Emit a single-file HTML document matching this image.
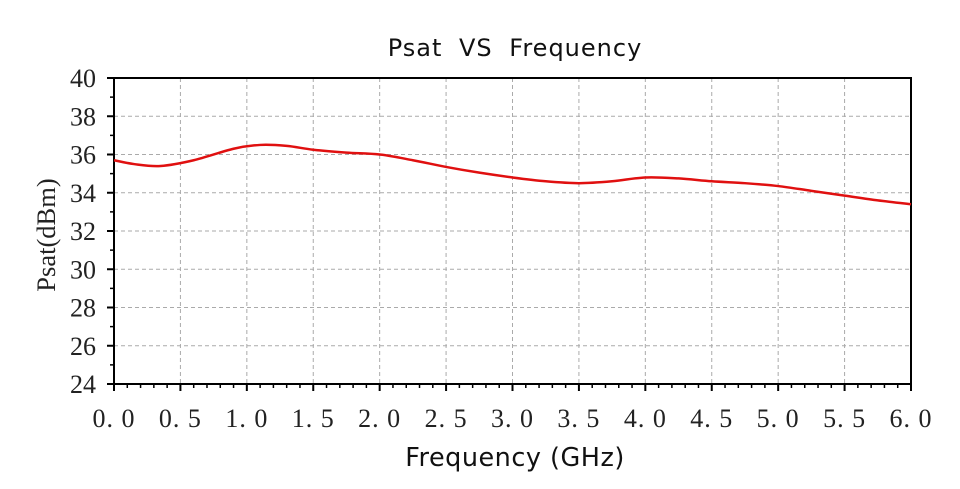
<!DOCTYPE html>
<html><head><meta charset="utf-8"><style>
html,body{margin:0;padding:0;background:#fff;}
svg{display:block;}
.tk{font-family:"Liberation Serif","Noto Serif CJK SC",serif;font-size:26px;fill:#222;}
.lb{font-family:"DejaVu Sans","Liberation Sans",sans-serif;font-size:24px;fill:#111;}
</style></head><body>
<svg id="chart" width="960" height="489" viewBox="0 0 960 489">
<text x="515" y="56" text-anchor="middle" class="lb" style="font-size:24px;word-spacing:8px;letter-spacing:1px">Psat VS Frequency</text>
<text x="515" y="466" text-anchor="middle" class="lb" style="font-size:25.5px;letter-spacing:0.5px">Frequency (GHz)</text>
<text transform="translate(55,235) rotate(-90)" text-anchor="middle" class="tk" style="font-size:26.5px">Psat(dBm)</text>
<g id="grid"></g><g id="axes"></g><g id="series"></g>
</svg>
<script>
const freqs=[0,0.15,0.35,0.6,0.9,1.1,1.3,1.5,1.75,2.0,2.25,2.5,2.75,3.0,3.25,3.5,3.75,4.0,4.25,4.5,4.75,5.0,5.25,5.5,5.75,6.0];
const psat=[35.7,35.5,35.4,35.7,36.3,36.5,36.45,36.25,36.1,36.0,35.7,35.35,35.05,34.8,34.6,34.5,34.6,34.8,34.75,34.6,34.5,34.35,34.1,33.85,33.6,33.4];
const xTicks=[0,0.5,1,1.5,2,2.5,3,3.5,4,4.5,5,5.5,6];
const xTickLabels=["0.0","0.5","1.0","1.5","2.0","2.5","3.0","3.5","4.0","4.5","5.0","5.5","6.0"];
const yTicks=[24,26,28,30,32,34,36,38,40];
const L=114,R=911,T=78,B=384;
const sx=v=>L+(v-0)/6*(R-L);
const sy=v=>B-(v-24)/16*(B-T);
const NS="http://www.w3.org/2000/svg";
function mk(p,t,a){const e=document.createElementNS(NS,t);for(const k in a)e.setAttribute(k,a[k]);p.appendChild(e);return e;}
const g=document.getElementById('grid'),ax=document.getElementById('axes'),se=document.getElementById('series');
xTicks.forEach((v,i)=>{
 if(i>0&&i<xTicks.length-1){const l=mk(g,'line',{x1:sx(v),x2:sx(v),y1:T,y2:B,stroke:'#aaa','stroke-width':1,'stroke-dasharray':'4,3'});
 
 }
 const t=mk(ax,'line',{x1:sx(v),x2:sx(v),y1:B,y2:B+7,stroke:'#000','stroke-width':2});
 
 
 const tx=mk(ax,'text',{x:sx(v),y:B+43,'text-anchor':'middle',class:'tk','letter-spacing':'1'});
 tx.textContent=xTickLabels[i].replace('.','. ');
 
 
});
for(let k=1;k<60;k++){if(k%5===0)continue;const v=k/10;
 const t=mk(ax,'line',{x1:sx(v),x2:sx(v),y1:B,y2:B+4,stroke:'#000','stroke-width':1.5});
 
 }
yTicks.forEach(v=>{
 if(v>24&&v<40){const l=mk(g,'line',{x1:L,x2:R,y1:sy(v),y2:sy(v),stroke:'#aaa','stroke-width':1,'stroke-dasharray':'4,3'});
 
 }
 const t=mk(ax,'line',{x1:L-7,x2:L,y1:sy(v),y2:sy(v),stroke:'#000','stroke-width':2});
 
 
 const tx=mk(ax,'text',{x:L-18,y:sy(v)+9,'text-anchor':'end',class:'tk'});
 tx.textContent=v;
 
 
 if(v<40){const m=mk(ax,'line',{x1:L-4,x2:L,y1:sy(v+1),y2:sy(v+1),stroke:'#000','stroke-width':1.5});
 
 }
});
const fr=mk(ax,'rect',{x:L,y:T,width:R-L,height:B-T,fill:'none',stroke:'#000','stroke-width':2});


const P=freqs.map((f,i)=>[sx(f),sy(psat[i])]);
let d='M'+P[0][0]+','+P[0][1];
for(let i=0;i<P.length-1;i++){const p0=P[i-1]||P[i],p1=P[i],p2=P[i+1],p3=P[i+2]||p2;
 const c1=[p1[0]+(p2[0]-p0[0])/6,p1[1]+(p2[1]-p0[1])/6],c2=[p2[0]-(p3[0]-p1[0])/6,p2[1]-(p3[1]-p1[1])/6];
 d+=' C'+c1+' '+c2+' '+p2;}
const ln=mk(se,'path',{d:d,fill:'none',stroke:'#e01010','stroke-width':2.5});


</script>
</body></html>
